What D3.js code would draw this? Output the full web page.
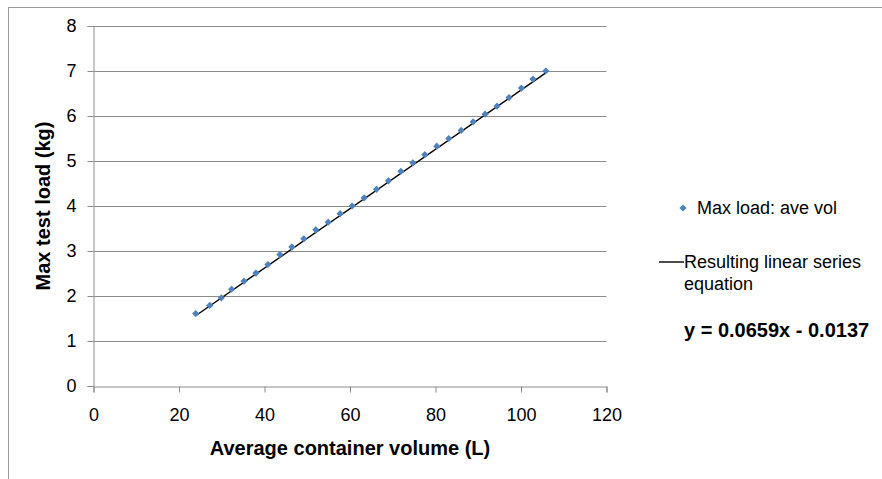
<!DOCTYPE html>
<html>
<head>
<meta charset="utf-8">
<script src="https://cdn.jsdelivr.net/npm/d3@7"></script>
<style>
  body { margin: 0; background: #fff; }
  text { font-family: "Liberation Sans", Arial, sans-serif; fill: #000; }
</style>
</head>
<body>
<script>
// values
const volume = [23.9, 27.2, 29.9, 32.3, 35.2, 38.0, 40.8, 43.6, 46.4, 49.2,
  52.0, 54.9, 57.7, 60.5, 63.3, 66.2, 69.0, 71.9, 74.7, 77.5,
  80.3, 83.1, 86.0, 88.8, 91.6, 94.4, 97.2, 100.1, 102.8, 105.8];
const maxLoad = [1.61, 1.79, 1.96, 2.15, 2.33, 2.51, 2.70, 2.92, 3.09, 3.27,
  3.47, 3.64, 3.83, 4.00, 4.18, 4.37, 4.56, 4.77, 4.96, 5.14,
  5.33, 5.50, 5.68, 5.87, 6.04, 6.22, 6.41, 6.62, 6.82, 7.00];
const xTicks = [0, 20, 40, 60, 80, 100, 120];
const yTicks = [0, 1, 2, 3, 4, 5, 6, 7, 8];
const slope = 0.0659, intercept = -0.0137;
const seriesName = "Max load: ave vol";
const trendName = ["Resulting linear series", "equation"];
const equation = "y = 0.0659x - 0.0137";

const w = 882, h = 479;
const plot = {left: 93.5, right: 606.5, top: 26, bottom: 386};
const grey = "#8c8c8c";

const svg = d3.select("body").append("svg")
  .attr("width", w).attr("height", h);

// outer chart border (runs off the right/bottom of the picture)
svg.append("rect")
  .attr("x", 8.5).attr("y", 7.5)
  .attr("width", w + 20).attr("height", h + 20)
  .attr("fill", "none").attr("stroke", "#999");

const x = d3.scaleLinear().domain([0, 120]).range([plot.left, plot.right]);
const y = d3.scaleLinear().domain([0, 8]).range([plot.bottom, plot.top]);

// gridlines
svg.append("g").selectAll("line")
  .data(yTicks.filter(d => d > 0))
  .enter().append("line")
  .attr("x1", plot.left).attr("x2", plot.right)
  .attr("y1", d => Math.round(y(d)) + 0.5).attr("y2", d => Math.round(y(d)) + 0.5)
  .attr("stroke", grey);

const xAxis = svg.append("g")
  .attr("transform", "translate(0," + (plot.bottom + 0.5) + ")")
  .call(d3.axisBottom(x).tickValues(xTicks).tickSize(6).tickPadding(16));
const yAxis = svg.append("g")
  .attr("transform", "translate(" + plot.left + ",0)")
  .call(d3.axisLeft(y).tickValues(yTicks).tickSize(6).tickPadding(11));

[xAxis, yAxis].forEach(function(g) {
  g.select(".domain").attr("stroke", grey);
  g.selectAll(".tick line").attr("stroke", grey);
  g.selectAll(".tick text")
    .attr("font-size", 18)
    .attr("font-family", "Liberation Sans, Arial, sans-serif")
    .attr("fill", "#000");
});

// trend line across the data range
const x0 = d3.min(volume), x1 = d3.max(volume);
svg.append("line")
  .attr("x1", x(x0)).attr("y1", y(slope * x0 + intercept))
  .attr("x2", x(x1)).attr("y2", y(slope * x1 + intercept))
  .attr("stroke", "#000").attr("stroke-width", 1.4);

const diamond = d3.symbol().type(d3.symbolSquare).size(26);
svg.append("g").selectAll("path")
  .data(volume)
  .enter().append("path")
  .attr("d", diamond)
  .attr("transform", function(d, i) {
    return "translate(" + x(d) + "," + y(maxLoad[i]) + ") rotate(45)";
  })
  .attr("fill", "#4f81bd");

// axis titles
svg.append("text")
  .attr("x", (plot.left + plot.right) / 2).attr("y", 455)
  .attr("text-anchor", "middle")
  .attr("font-size", 20).attr("font-weight", "bold")
  .text("Average container volume (L)");

svg.append("text")
  .attr("transform", "translate(50," + (plot.top + plot.bottom) / 2 + ") rotate(-90)")
  .attr("text-anchor", "middle")
  .attr("font-size", 20).attr("font-weight", "bold")
  .text("Max test load (kg)");

// legend
const lg = svg.append("g");
lg.append("path")
  .attr("d", diamond)
  .attr("transform", "translate(683,208) rotate(45)")
  .attr("fill", "#4f81bd");
lg.append("text")
  .attr("x", 697).attr("y", 214)
  .attr("font-size", 18)
  .text(seriesName);

lg.append("line")
  .attr("x1", 659).attr("x2", 684)
  .attr("y1", 262).attr("y2", 262)
  .attr("stroke", "#000").attr("stroke-width", 1.4);
lg.selectAll("text.trend")
  .data(trendName)
  .enter().append("text")
  .attr("class", "trend")
  .attr("x", 684)
  .attr("y", (d, i) => 268 + i * 22)
  .attr("font-size", 18)
  .text(d => d);

lg.append("text")
  .attr("x", 684).attr("y", 337)
  .attr("font-size", 20).attr("font-weight", "bold")
  .text(equation);
</script>
</body>
</html>
